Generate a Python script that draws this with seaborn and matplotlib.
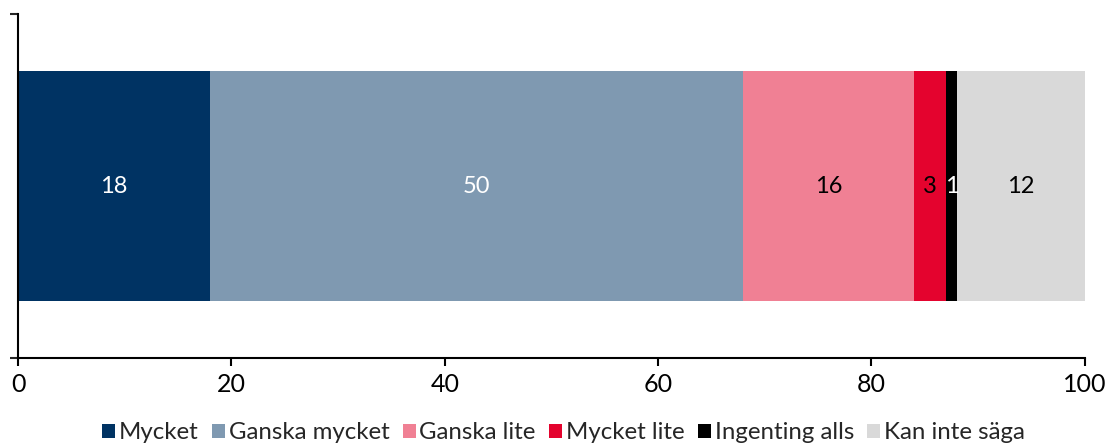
import numpy as np
import pandas as pd
import seaborn as sns
import matplotlib.pyplot as plt
from matplotlib.patches import Patch

categories = ["Mycket", "Ganska mycket", "Ganska lite", "Mycket lite", "Ingenting alls", "Kan inte säga"]
values = [18, 50, 16, 3, 1, 12]
colors = ["#003363", "#7F99B1", "#F08094", "#E4032E", "#000000", "#D9D9D9"]
label_colors = ["white", "white", "black", "black", "white", "black"]

sns.set_style("ticks")
plt.rcParams['font.family'] = ['Lato', 'DejaVu Sans']

df = pd.DataFrame({"kat": categories, "varde": values})
df["cum"] = df["varde"].cumsum()
df["grp"] = "Alla"

fig = plt.figure(figsize=(11.07, 4.45), dpi=100)
ax = fig.add_axes([0.0163, 0.1955, 0.9637, 0.773])

# stacked bar: draw cumulative totals from largest to smallest so they overlay
for i in reversed(range(len(df))):
    sns.barplot(x=[df["cum"][i]], y=[df["grp"][i]], orient="h", color=colors[i],
                width=0.67, saturation=1, ax=ax, linewidth=0)

for i in range(len(df)):
    mid = df["cum"][i] - df["varde"][i] / 2
    ax.text(mid, 0, str(df["varde"][i]), ha="center", va="center",
            color=label_colors[i], fontsize=17)

ax.set_xlim(0, 100)
ax.set_ylim(0.5, -0.5)
ax.set_xticks([0, 20, 40, 60, 80, 100])
ax.set_yticks([-0.5, 0.5])
ax.set_yticklabels(["", ""])
ax.set_xlabel("")
ax.set_ylabel("")
ax.tick_params(axis="x", labelsize=18, length=6, width=1.5, colors="black", pad=5)
ax.tick_params(axis="y", length=6, width=1.5)
for s in ["top", "right"]:
    ax.spines[s].set_visible(False)
for s in ["left", "bottom"]:
    ax.spines[s].set_linewidth(1.5)
    ax.spines[s].set_color("black")

handles = [Patch(facecolor=c, edgecolor="none") for c in colors]
fig.legend(handles, categories, loc="center", bbox_to_anchor=(0.509, 0.027), ncol=6,
           frameon=False, fontsize=17.3, handlelength=0.55, handleheight=0.55,
           handletextpad=0.15, columnspacing=0.55)

fig.savefig("out.png", dpi=100)
